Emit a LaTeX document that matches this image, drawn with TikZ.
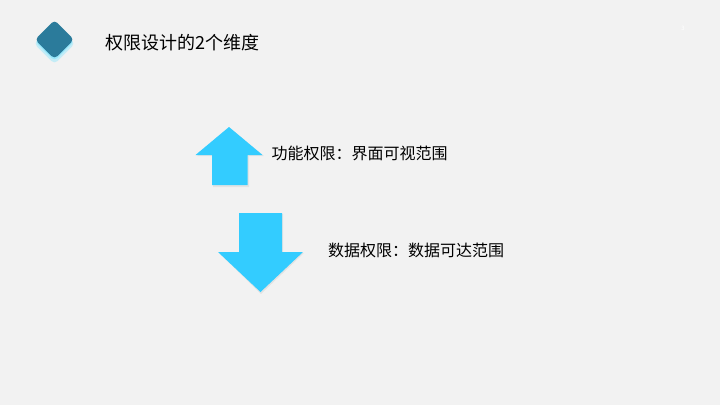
\documentclass[tikz,border=0pt]{standalone}
\usepackage{fontspec}
\setmainfont{Noto Sans CJK SC}
\usetikzlibrary{
  positioning, % for the labels next to the arrows
}
\definecolor{pagebg}{HTML}{F2F2F2}
\definecolor{arrowblue}{HTML}{33CCFF}
\definecolor{badgeteal}{HTML}{2B7B9B}
\definecolor{glowcyan}{HTML}{6FE3FF}
\tikzset{
  arrowshape/.style={ % style for the two big arrows
    fill=arrowblue,draw=none,
  },
  label/.style={ % style for the texts beside the arrows
    font=\fontsize{16}{16}\selectfont,
    text=black,inner sep=0pt,anchor=west,
  },
  title/.style={ % style for the slide title
    font=\fontsize{18}{18}\selectfont,
    text=black,inner sep=0pt,anchor=west,
  },
}
\begin{document}
\begin{tikzpicture}[x=1pt,y=-1pt]
	\fill[pagebg] (0,0) rectangle (720,405);
	\useasboundingbox (0,0) rectangle (720,405);
	
	% badge with its glow
	\fill[glowcyan,opacity=0.35,rounded corners=4pt] (54.5,23) -- (75,43.5) -- (54.5,64) -- (34,43.5) -- cycle;
	\fill[glowcyan,opacity=0.5,rounded corners=4pt] (54.5,22) -- (74,41.5) -- (54.5,61) -- (35,41.5) -- cycle;
	\fill[badgeteal,rounded corners=4pt] (54.5,20) -- (74,39.5) -- (54.5,59) -- (35,39.5) -- cycle;
	
	\node[title] (title) at (105,43) {权限设计的2个维度};
	\node[text=white,font=\fontsize{6}{6}\selectfont,inner sep=0pt] (page) at (683,28) {3};
	
	% up arrow
	\fill[black,opacity=0.06] (230,128) -- (264,156) -- (249,156) -- (249,187) -- (213,187) -- (213,156) -- (197,156) -- cycle;
	\fill[arrowshape] (229,127) -- (262.5,155) -- (247.5,155) -- (247.5,185) -- (212,185) -- (212,155) -- (195.5,155) -- cycle;
	\coordinate (up) at (262.5,153);
	\node[label,right=9pt of up] (func) {功能权限：界面可视范围};
	
	% down arrow
	\fill[black,opacity=0.06] (240,214) -- (283,214) -- (283,253) -- (304,253) -- (261,294) -- (219,253) -- (240,253) -- cycle;
	\fill[arrowshape] (239,213) -- (282,213) -- (282,252) -- (303,252) -- (260.5,292) -- (218,252) -- (239,252) -- cycle;
	\coordinate (down) at (303,250);
	\node[label,right=25pt of down] (data) {数据权限：数据可达范围};
\end{tikzpicture}
\end{document}
